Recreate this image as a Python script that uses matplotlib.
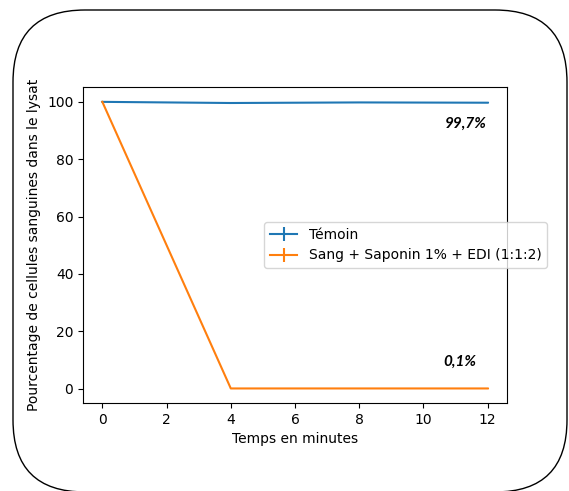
import matplotlib
matplotlib.use('Agg')
import matplotlib.pyplot as plt
from matplotlib.patches import FancyBboxPatch

# data
temps = [0, 4, 8, 12]
temoin = [100, 99.6, 99.8, 99.7]
temoin_err = [0.2, 0.2, 0.2, 0.2]
saponin = [100, 0.1, 0.1, 0.1]
saponin_err = [0.1, 0.1, 0.1, 0.1]
labels = ['Témoin', 'Sang + Saponin 1% + EDI (1:1:2)']
annotations = ['99,7%', '0,1%']

fig = plt.figure(figsize=(5.69, 4.91), dpi=100)
ax = fig.add_axes([0.146, 0.179, 0.745, 0.644])

ax.errorbar(temps, temoin, yerr=temoin_err, label=labels[0])
ax.errorbar(temps, saponin, yerr=saponin_err, label=labels[1])

ax.set_xticks(range(0, 13, 2))
ax.set_xlabel('Temps en minutes')
ax.set_ylabel('Pourcentage de cellules sanguines dans le lysat')

# value labels at the end of each curve
ax.text(temps[-1] - 0.04, temoin[-1] - 7.4, annotations[0], ha='right', va='center',
        fontsize=11, fontweight='bold', fontstyle='italic', family='Lato')
ax.text(temps[-1] - 0.34, saponin[-1] + 9.3, annotations[1], ha='right', va='center',
        fontsize=11, fontweight='bold', fontstyle='italic', family='Lato')

ax.legend(loc='center left', bbox_to_anchor=(0.427, 0.5), borderaxespad=0)

# rounded frame around the whole picture (pixel coords)
frame = FancyBboxPatch((13, -1), 554, 482, boxstyle='round,pad=0,rounding_size=72',
                       transform=None, facecolor='none', edgecolor='black', linewidth=1)
fig.patches.append(frame)

fig.savefig('out.png', dpi=100)
